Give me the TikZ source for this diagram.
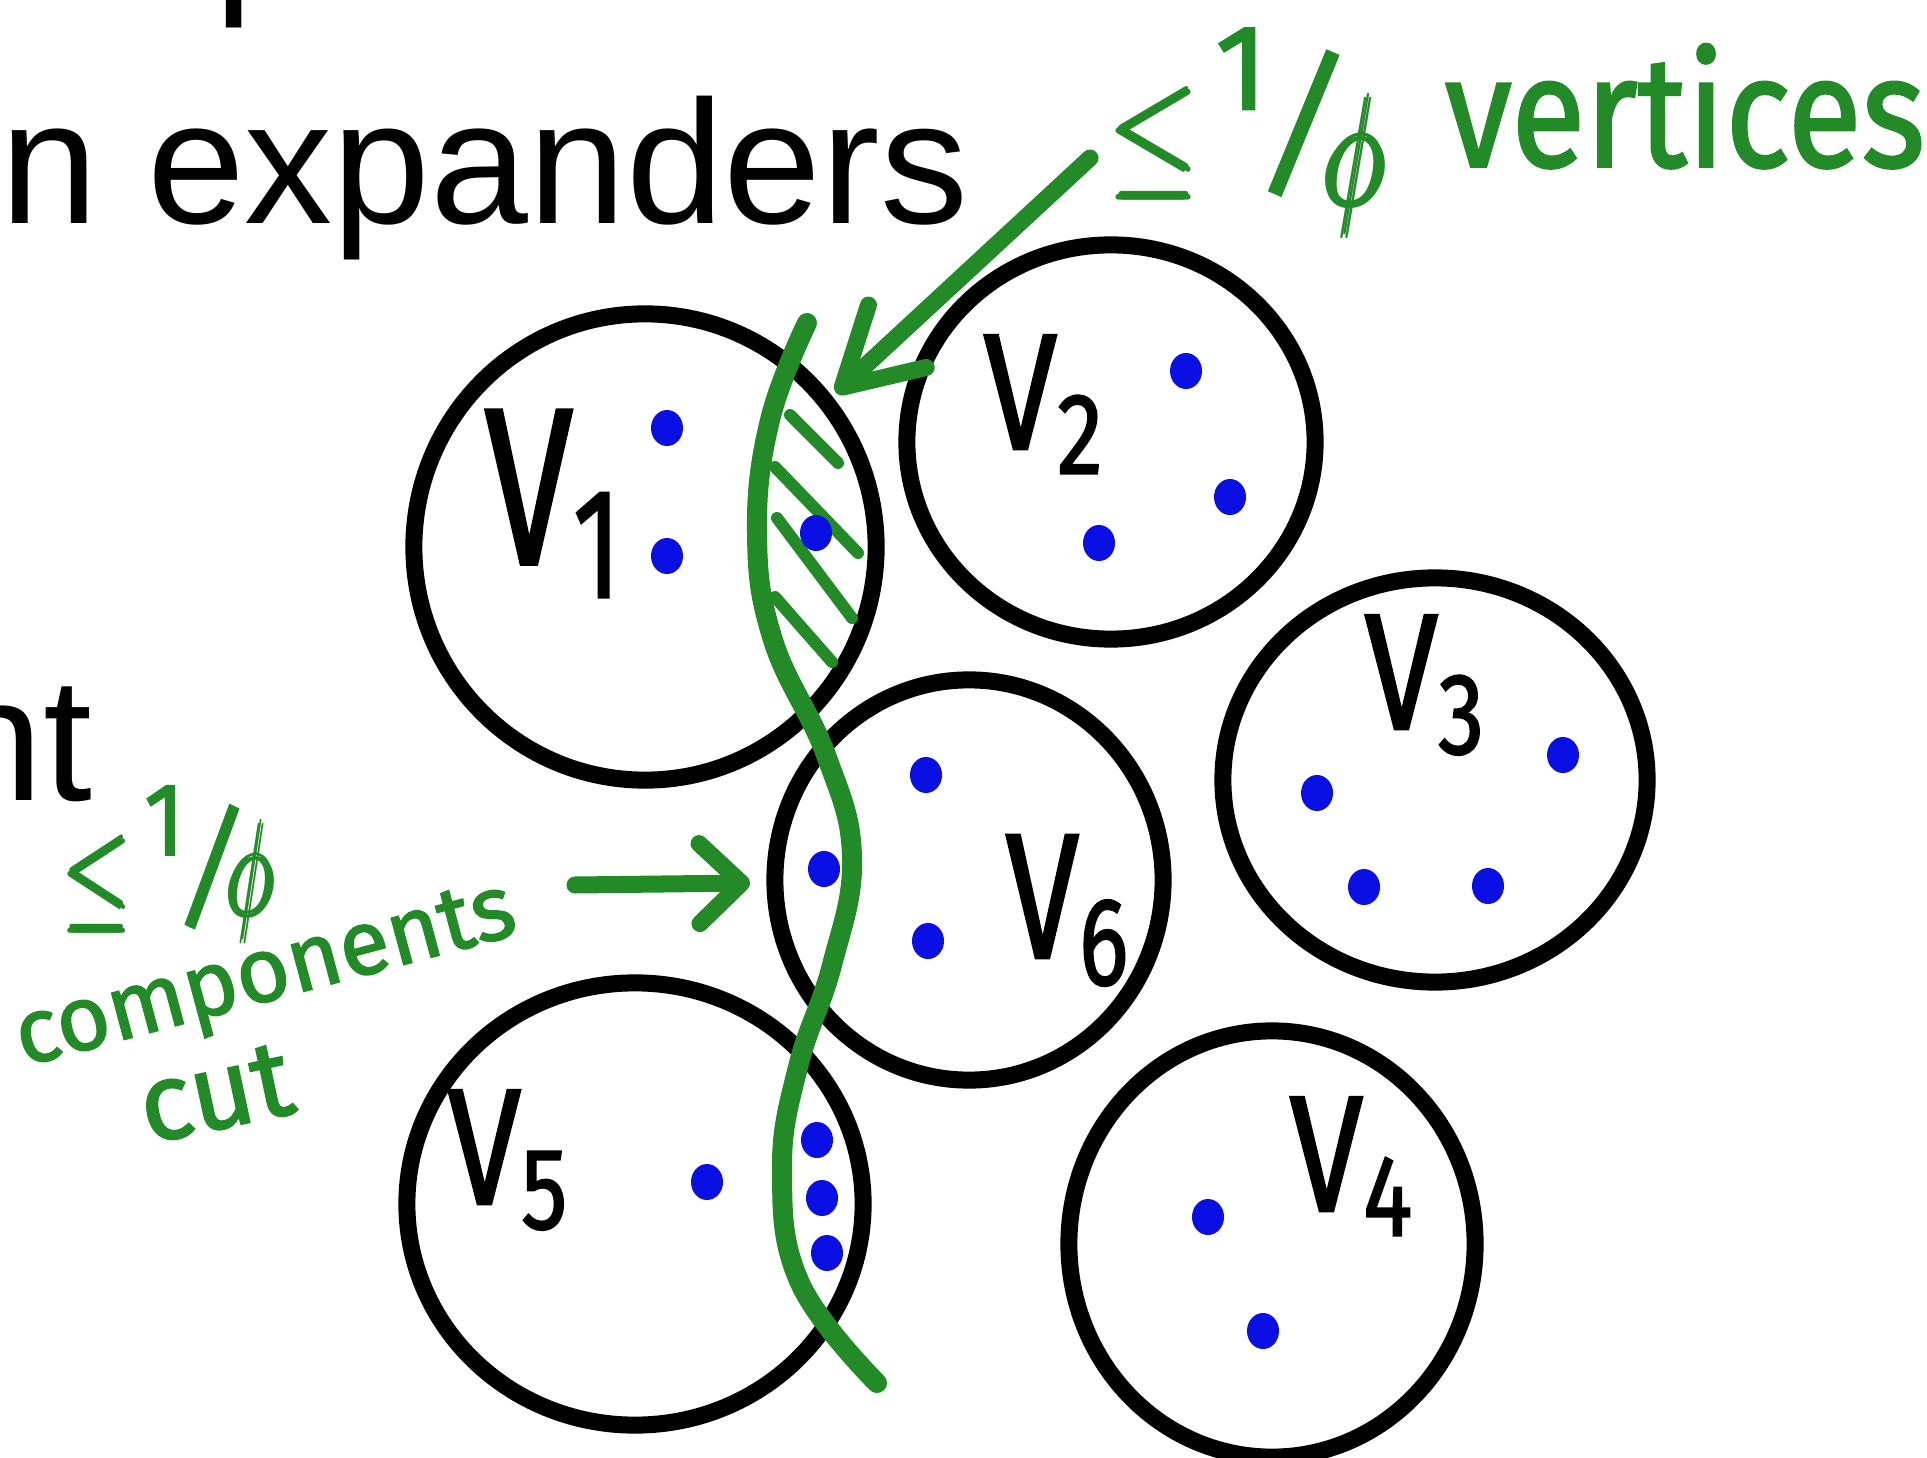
\documentclass[tikz,border=0pt]{standalone}
\usepackage{fix-cm}
\usepackage{amsmath}
\usepackage{fontspec}
\setmainfont{Fira Sans}
\newfontfamily\slidefont{Liberation Sans}
\newfontfamily\handfont{Fira Sans}[FakeBold=1.6]
\usetikzlibrary{shapes.geometric,arrows.meta}
\definecolor{inkgreen}{RGB}{34,139,40}
\definecolor{dotblue}{RGB}{10,16,228}
\newcommand{\invphi}[1][-.18em]{\scalebox{.8}[1]{$\pmb{\leq}$}\kern.1em\raisebox{.5em}{\scalebox{.85}{1}}\kern-.1em\rotatebox[origin=c]{-9}{\scalebox{1.05}[1.15]{/}}\kern-.2em\raisebox{#1}{\scalebox{.75}[1.1]{$\pmb{\phi}$}}}

\begin{document}
\begin{tikzpicture}[x=0.01cm, y=-0.01cm,
  set/.style={draw, ellipse, line width=0.17cm, inner sep=0pt},
  vert/.style={ellipse, fill=dotblue, minimum width=0.32cm, minimum height=0.36cm, inner sep=0pt},
  setname/.style={font=\handfont\fontsize{47}{50}\selectfont, xscale=0.8, anchor=base west, inner sep=0pt},
  note/.style={text=inkgreen, inner sep=0pt},
  pen/.style={draw=inkgreen, line width=0.17cm, line cap=round, line join=round},
  hatch/.style={draw=inkgreen, line width=0.12cm, line cap=round},
  slide/.style={font=\slidefont\fontsize{50}{60}\selectfont, anchor=base west, inner sep=0pt}]
\useasboundingbox (0,0) rectangle (1927,1458);
\clip (0,0) rectangle (1927,1458);
\node[slide] (prevline) at (214,-8) {p};
\node[slide] (title) at (0,224) {n expanders};
\node[slide] (leftword) at (-55,800) {nt};
\node[set, minimum width=4.62cm, minimum height=4.66cm] (s1) at (645,547) {};
\node[set, minimum width=4.08cm, minimum height=3.94cm] (s2) at (1111,442) {};
\node[set, minimum width=4.24cm, minimum height=4.04cm] (s3) at (1435,780) {};
\node[set, minimum width=4.06cm, minimum height=4.26cm] (s4) at (1272,1244) {};
\node[set, minimum width=4.56cm, minimum height=4.42cm] (s5) at (635,1204) {};
\node[set, minimum width=3.88cm, minimum height=4.00cm] (s6) at (969,880) {};
\draw[pen, line width=0.2cm] plot[smooth, tension=0.7] coordinates {(807,323) (770,420) (757,533)
  (773,640) (826,755) (852,857) (832,965) (798,1067) (782,1170) (800,1283) (877,1383)};
\draw[hatch] (790,415) -- (838,463);
\draw[hatch] (775,467) -- (858,553);
\draw[hatch] (777,518) -- (852,618);
\draw[hatch] (775,597) -- (832,662);
\coordinate (vtail) at (1090,158);
\coordinate (vtip) at (836,393);
\draw[pen, -{Straight Barb[length=0.75cm, width=0.85cm, round]}] (vtail) -- (vtip);
\coordinate (ctail) at (575,885);
\coordinate (ctip) at (750,883);
\draw[pen, -{Straight Barb[length=0.42cm, width=0.8cm, round]}] (ctail) -- (ctip);
\foreach \x/\y [count=\i] in {667/428, 667/556, 816/533, 1186/371, 1230/497, 1099/543,
  1563/755, 1317/793, 1364/887, 1488/886, 926/775, 824/869, 928/941,
  707/1182, 817/1140, 822/1198, 827/1253, 1208/1217, 1263/1331}
  \node[vert] (d\i) at (\x,\y) {};
\node[setname, xscale=1.2, yscale=1.35] (n1) at (484,564) {V\textsubscript{1}};
\node[setname] (n2) at (983,449) {V\textsubscript{2}};
\node[setname] (n3) at (1364,729) {V\textsubscript{3}};
\node[setname] (n4) at (1289,1211) {V\textsubscript{4}};
\node[setname] (n5) at (447,1204) {V\textsubscript{5}};
\node[setname, yscale=1.08] (n6) at (1005,958) {V\textsubscript{6}};
\node[note, anchor=base west, font=\handfont\fontsize{40.7}{48}\selectfont] (vlabel) at (1111,181)
  {\invphi\hspace{.4em}\raisebox{.1em}{\scalebox{.95}[1.1]{vertices}}};
\node[note, anchor=base west, xscale=0.9, font=\handfont\fontsize{34.7}{42}\selectfont] (clabel) at (64,916) {\invphi[0em]};
\node[note, anchor=base, rotate=15, font=\handfont\fontsize{26}{30}\selectfont] (comp) at (272,1000) {components};
\node[note, anchor=base, rotate=12, font=\handfont\fontsize{31}{36}\selectfont] (cut) at (223,1128) {cut};
\end{tikzpicture}
\end{document}
